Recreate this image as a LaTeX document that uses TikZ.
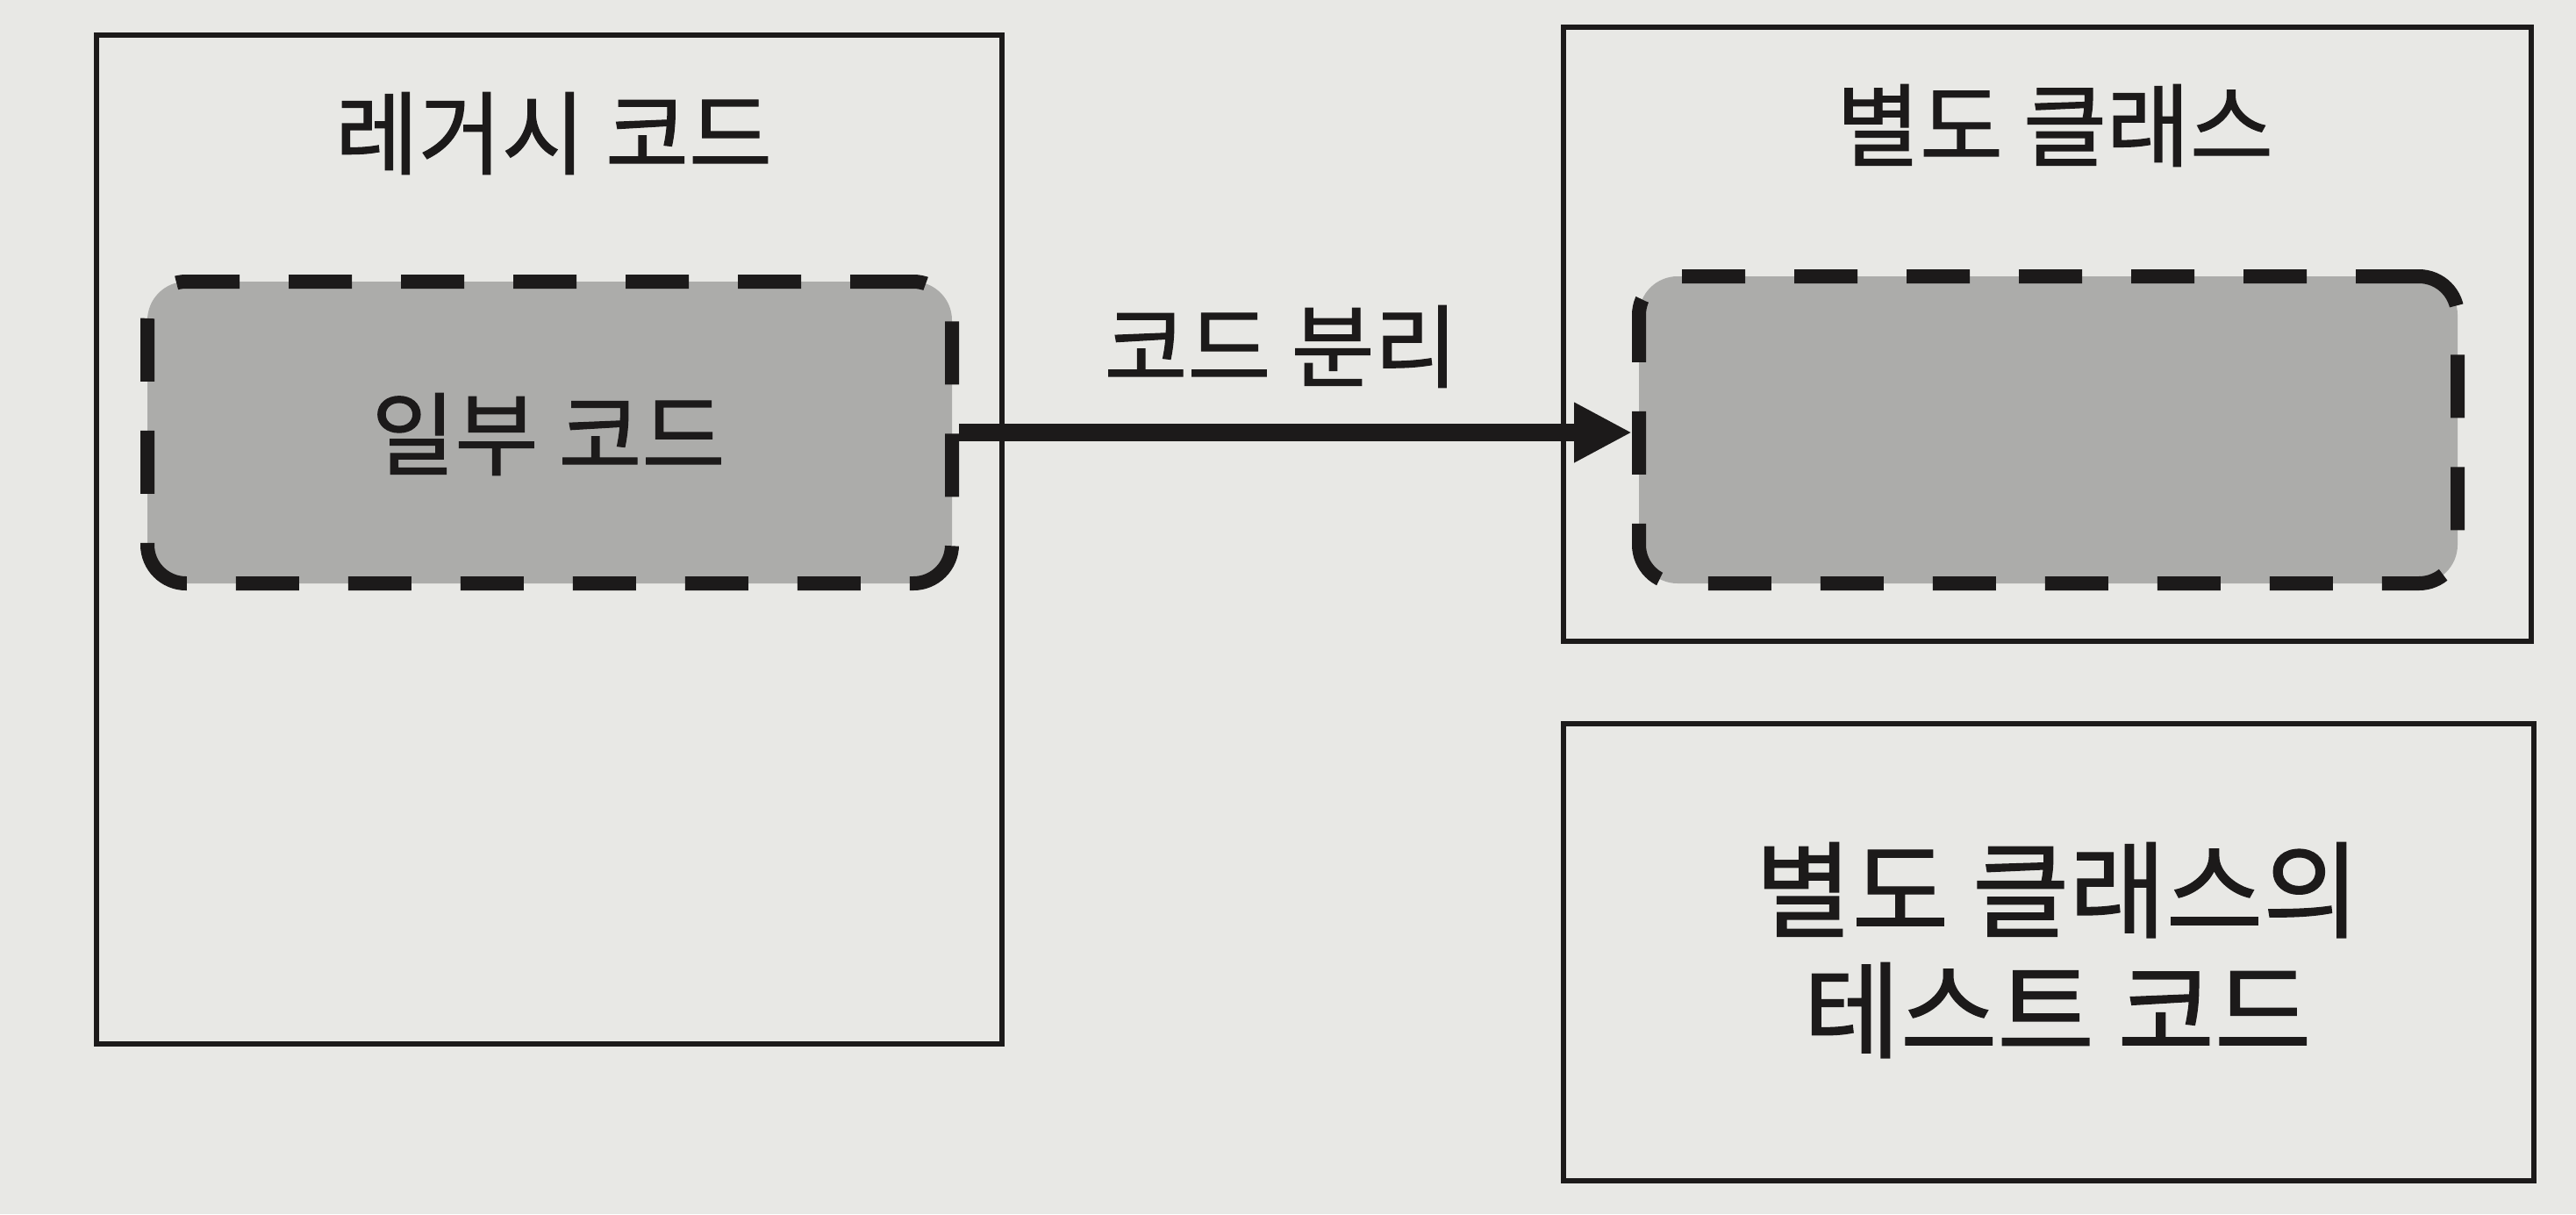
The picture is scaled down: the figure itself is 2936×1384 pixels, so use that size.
\documentclass[tikz,border=0pt]{standalone}
\usepackage{fontspec}
\setmainfont{Noto Sans CJK KR}[FakeBold=1.2]
\usetikzlibrary{arrows.meta}
\definecolor{paper}{RGB}{232,232,229}
\definecolor{ink}{RGB}{28,26,26}
\definecolor{shade}{RGB}{172,172,170}
\tikzset{
  outerbox/.style={draw=ink, line width=1.3pt, rectangle, inner sep=0pt},
  dashbox/.style={draw=ink, fill=shade, line width=4pt, rectangle, rounded corners=11pt,
    dash pattern=on 18pt off 14pt, inner sep=0pt},
  lbl/.style={text=ink, font=\fontsize{25.8}{30}\selectfont, inner sep=0pt},
  biglbl/.style={text=ink, font=\fontsize{30}{34.25}\selectfont, inner sep=0pt, align=center},
  arr/.style={draw=ink, line width=5pt, -{Triangle[length=16.5pt,width=16pt]}}
}
\begin{document}
\begin{tikzpicture}[x=0.25pt,y=-0.25pt]
\fill[paper] (0,0) rectangle (2936,1384);
\useasboundingbox (0,0) rectangle (2936,1384);
% left box
\node[outerbox, minimum width=258pt, minimum height=287.5pt] (legacy) at (626,615) {};
\node[lbl] (legacyTitle) at (631,152) {레거시 코드};
\node[dashbox, minimum width=229.25pt, minimum height=86pt] (part) at (626.5,493) {};
\node[lbl] (partText) at (625,495) {일부 코드};
% right top box
\node[outerbox, minimum width=275.75pt, minimum height=175pt] (sepclass) at (2333.5,381) {};
\node[lbl] (sepTitle) at (2342,143) {별도 클래스};
\node[dashbox, minimum width=233.25pt, minimum height=87.5pt] (sep) at (2334.5,490) {};
% right bottom box
\node[outerbox, minimum width=276.5pt, minimum height=130.25pt] (test) at (2335,1085.5) {};
\node[biglbl] (testText) at (2345,1083) {별도 클래스의\\테스트 코드};
% arrow
\draw[arr] (part.east) -- (part.east -| sep.west);
\node[lbl] (arrLabel) at (1460,395) {코드 분리};
\end{tikzpicture}
\end{document}
